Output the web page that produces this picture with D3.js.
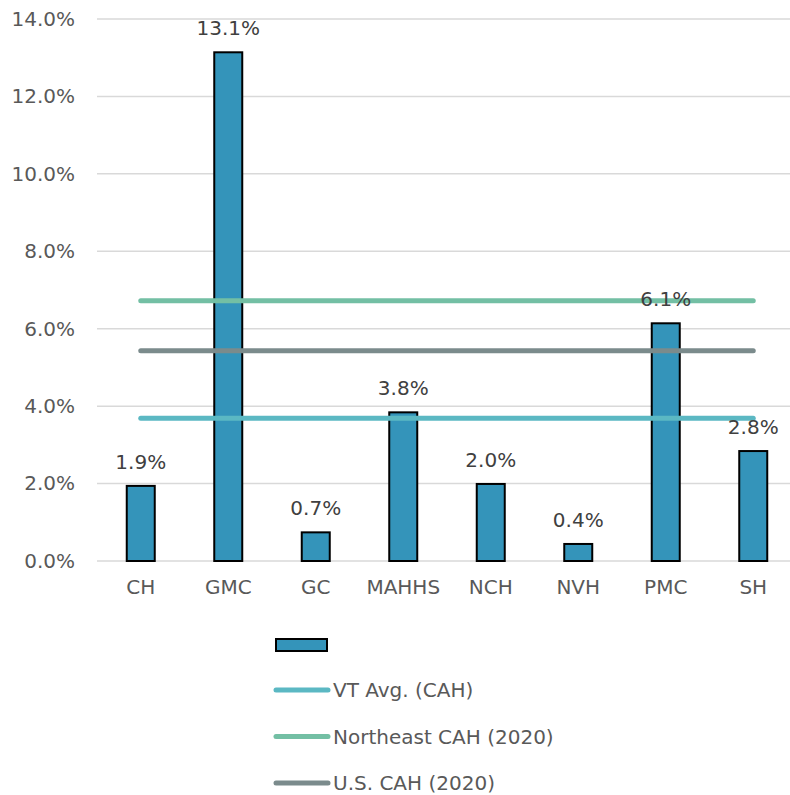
<!DOCTYPE html>
<html>
<head>
<meta charset="utf-8">
<style>
  body { margin: 0; background: #fff; }
  svg { display: block; font-family: "DejaVu Sans", sans-serif; }
</style>
</head>
<body>
<svg width="790" height="795"></svg>
<script src="https://d3js.org/d3.v7.min.js"></script>
<script>

var categories = ["CH", "GMC", "GC", "MAHHS", "NCH", "NVH", "PMC", "SH"];
var values = [0.0194, 0.1314, 0.0074, 0.0384, 0.0199, 0.0044, 0.0614, 0.0284];
var yTicks = [0, 0.02, 0.04, 0.06, 0.08, 0.10, 0.12, 0.14];

// reference lines
var refNames = ["VT Avg. (CAH)", "Northeast CAH (2020)", "U.S. CAH (2020)"];
var refValues = [0.0369, 0.0672, 0.0543];
var refColors = ["#5bb8c3", "#73bfa4", "#7b8b8c"];

var font = "DejaVu Sans, sans-serif";

var svg = d3.select("svg"),
    margin = {top: 19, right: -7, bottom: 234, left: 97},
    width = +svg.attr("width") - margin.left - margin.right,
    height = +svg.attr("height") - margin.top - margin.bottom,
    g = svg.append("g").attr("transform", "translate(" + margin.left + "," + margin.top + ")");

var x = d3.scaleBand().domain(categories).range([0, width]).paddingInner(0.68).paddingOuter(0.34);
var y = d3.scaleLinear().domain([0, 0.14]).range([height, 0]);

// gridlines
g.append("g")
  .selectAll("line")
  .data(yTicks)
  .enter().append("line")
    .attr("x1", 0)
    .attr("x2", width)
    .attr("y1", function(d) { return y(d); })
    .attr("y2", function(d) { return y(d); })
    .attr("stroke", "#d9d9d9")
    .attr("stroke-width", 1.5);

// y axis labels
var yAxis = g.append("g")
    .call(d3.axisLeft(y).tickValues(yTicks).tickFormat(d3.format(".1%")).tickSize(0).tickPadding(22));
yAxis.select(".domain").remove();
yAxis.selectAll("text")
    .attr("fill", "#595959")
    .attr("font-size", "20px")
    .attr("font-family", font);

// x axis labels
var xAxis = g.append("g")
    .attr("transform", "translate(0," + height + ")")
    .call(d3.axisBottom(x).tickSize(0).tickPadding(19));
xAxis.select(".domain").remove();
xAxis.selectAll("text")
    .attr("fill", "#595959")
    .attr("font-size", "20px")
    .attr("font-family", font);

// bars
g.selectAll(".bar")
  .data(values)
  .enter().append("rect")
    .attr("class", "bar")
    .attr("x", function(d, i) { return x(categories[i]); })
    .attr("y", function(d) { return y(d); })
    .attr("width", x.bandwidth())
    .attr("height", function(d) { return height - y(d); })
    .attr("fill", "#3494ba")
    .attr("stroke", "#000")
    .attr("stroke-width", 2);

// reference lines
var first = x(categories[0]) + x.bandwidth() / 2,
    last = x(categories[categories.length - 1]) + x.bandwidth() / 2;

g.selectAll(".ref")
  .data(refValues)
  .enter().append("line")
    .attr("class", "ref")
    .attr("x1", first)
    .attr("x2", last)
    .attr("y1", function(d) { return y(d); })
    .attr("y2", function(d) { return y(d); })
    .attr("stroke", function(d, i) { return refColors[i]; })
    .attr("stroke-width", 5)
    .attr("stroke-linecap", "round");

// data labels
g.selectAll(".label")
  .data(values)
  .enter().append("text")
    .attr("class", "label")
    .attr("x", function(d, i) { return x(categories[i]) + x.bandwidth() / 2; })
    .attr("y", function(d) { return y(d) - 17; })
    .attr("text-anchor", "middle")
    .attr("fill", "#404040")
    .attr("font-size", "20px")
    .text(function(d) { return d3.format(".1%")(d); });

// legend
var legend = svg.append("g").attr("transform", "translate(276,0)");

legend.append("rect")
    .attr("x", 0)
    .attr("y", 639)
    .attr("width", 51)
    .attr("height", 12)
    .attr("fill", "#3494ba")
    .attr("stroke", "#000")
    .attr("stroke-width", 2);

var items = legend.selectAll(".item")
  .data(refNames)
  .enter().append("g")
    .attr("class", "item")
    .attr("transform", function(d, i) { return "translate(0," + (690 + i * 46.5) + ")"; });

items.append("line")
    .attr("x1", 0)
    .attr("x2", 52)
    .attr("stroke", function(d, i) { return refColors[i]; })
    .attr("stroke-width", 5)
    .attr("stroke-linecap", "round");

items.append("text")
    .attr("x", 57)
    .attr("dy", "0.35em")
    .attr("fill", "#595959")
    .attr("font-size", "20px")
    .text(function(d) { return d; });

</script>
</body>
</html>
